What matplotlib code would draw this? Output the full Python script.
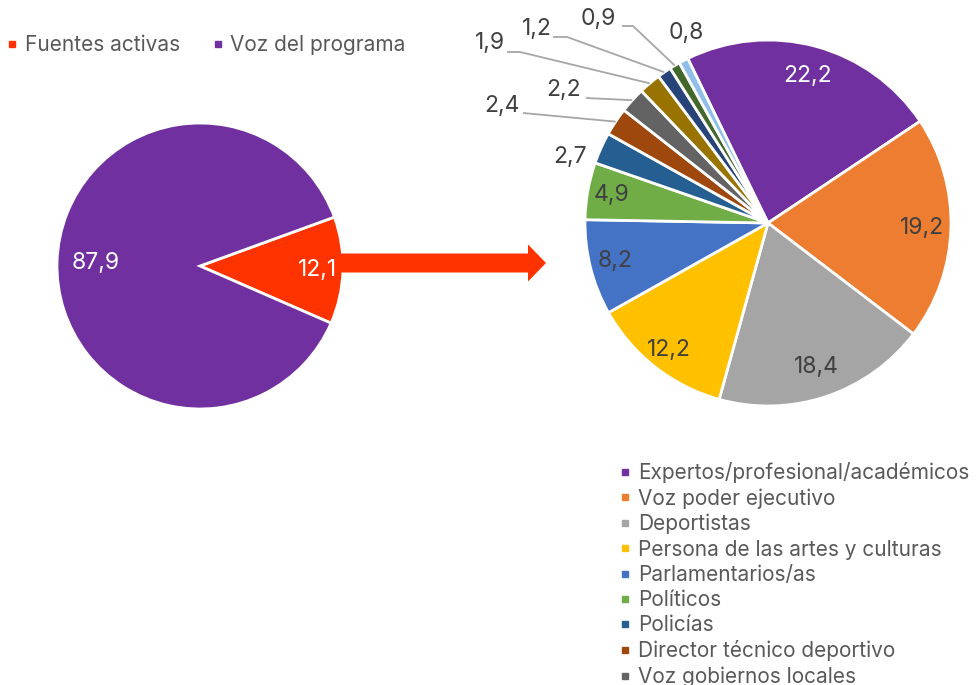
import matplotlib
matplotlib.use('Agg')
import matplotlib.pyplot as plt
import numpy as np
from matplotlib.patches import FancyArrow
from matplotlib.lines import Line2D

# ---- data ----
left_labels = ['Fuentes activas', 'Voz del programa']
left_values = [12.1, 87.9]
left_colors = ['#FF3300', '#7030A0']

right_values = [22.2, 19.2, 18.4, 12.2, 8.2, 4.9, 2.7, 2.4, 2.2, 1.9, 1.2, 0.9, 0.8]
right_colors = ['#7030A0', '#ED7D31', '#A5A5A5', '#FFC000', '#4472C4', '#70AD47',
                '#255E91', '#9E480E', '#636363', '#997300', '#264478', '#43682B', '#8FBFE8']
legend_labels = ['Expertos/profesional/académicos', 'Voz poder ejecutivo', 'Deportistas',
                 'Persona de las artes y culturas', 'Parlamentarios/as', 'Políticos',
                 'Policías', 'Director técnico deportivo', 'Voz gobiernos locales']

FONT = 'Inter'
plt.rcParams['font.family'] = [FONT, 'DejaVu Sans']

W, H = 976, 685
fig = plt.figure(figsize=(W / 100, H / 100), dpi=100)
ax = fig.add_axes([0, 0, 1, 1])

def fmt(v):
    return f'{v:.1f}'.replace('.', ',')

wp = dict(edgecolor='white', linewidth=2)
LFS = 16.5

# left pie
lc = (200, H - 266)
lr = 143
lw, _ = ax.pie(left_values, colors=left_colors, startangle=20, counterclock=False,
               center=lc, radius=lr, wedgeprops=wp)
left_f = [0.82, 0.73]
for w, v, f in zip(lw, left_values, left_f):
    t = np.deg2rad((w.theta1 + w.theta2) / 2)
    ax.text(lc[0] + lr * f * np.cos(t), lc[1] + lr * f * np.sin(t), fmt(v),
            ha='center', va='center', fontsize=LFS, color='white')

# right pie
rc = (768, H - 223)
rr = 183
rw, _ = ax.pie(right_values, colors=right_colors, startangle=116, counterclock=False,
               center=rc, radius=rr, wedgeprops=wp)

inside_f = [0.83, 0.84, 0.83, 0.88, 0.86, 0.87]
for i, f in enumerate(inside_f):
    w = rw[i]
    t = np.deg2rad((w.theta1 + w.theta2) / 2)
    col = 'white' if i == 0 else '#404040'
    ax.text(rc[0] + rr * f * np.cos(t), rc[1] + rr * f * np.sin(t), fmt(right_values[i]),
            ha='center', va='center', fontsize=LFS, color=col)

# outside labels (pixel positions) and leader line starts
out_pos = [(570, 157), (502, 106), (564, 90), (490, 43), (537, 29), (598, 19), (686, 33)]
leader = [None, [(523, 113)], [(586, 98)], [(507, 52), (520, 52)],
          [(553, 37), (567, 37)], [(622, 26), (633, 26)], None]
for k, (pos, ld) in enumerate(zip(out_pos, leader)):
    i = 6 + k
    ax.text(pos[0], H - pos[1], fmt(right_values[i]), ha='center', va='center',
            fontsize=LFS, color='#404040')
    if ld is not None:
        w = rw[i]
        t = np.deg2rad((w.theta1 + w.theta2) / 2)
        ex, ey = rc[0] + rr * np.cos(t), rc[1] + rr * np.sin(t)
        xs = [p[0] for p in ld] + [ex]
        ys = [H - p[1] for p in ld] + [ey]
        ax.plot(xs, ys, color='#A6A6A6', lw=1.3, solid_capstyle='butt')

# arrow
ax.add_patch(FancyArrow(340, H - 263, 206, 0, width=19, head_width=37, head_length=18,
                        length_includes_head=True, color='#FF3300', lw=0))

# legends
h_top = [Line2D([], [], marker='s', ls='', color=c, markersize=5) for c in left_colors]
leg1 = ax.legend(h_top, left_labels, loc='upper left', bbox_to_anchor=(2 / W, 1 - 35 / H),
                 ncol=2, frameon=False, fontsize=15, handletextpad=0.1, columnspacing=1.3,
                 handlelength=1.0, labelcolor='#595959', borderaxespad=0, borderpad=0)
ax.add_artist(leg1)

h_r = [Line2D([], [], marker='s', ls='', color=c, markersize=5) for c in right_colors[:9]]
ax.legend(h_r, legend_labels, loc='upper left', bbox_to_anchor=(615 / W, 1 - 462 / H),
          frameon=False, fontsize=15, handletextpad=0.1, handlelength=1.0,
          labelspacing=0.25, labelcolor='#595959', borderaxespad=0, borderpad=0)

ax.set_xlim(0, W)
ax.set_ylim(0, H)
ax.set_aspect('equal')
ax.axis('off')
fig.savefig('out.png', dpi=100)
